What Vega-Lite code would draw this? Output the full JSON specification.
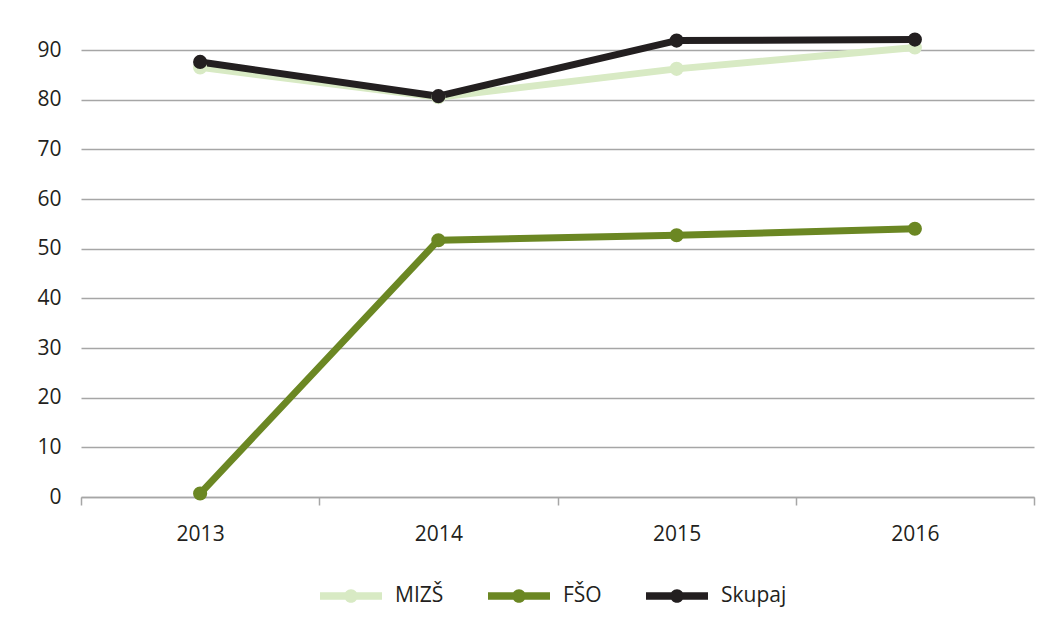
{
  "$schema": "https://vega.github.io/schema/vega-lite/v6.json",
  "width": 953,
  "height": 447,
  "autosize": {"type": "none"},
  "padding": {"left": 81, "top": 50, "right": 23, "bottom": 133},
  "background": "white",
  "config": {
    "font": "Open Sans",
    "view": {"stroke": null},
    "axis": {"labelFont": "Open Sans", "labelFontSize": 21, "labelColor": "#231f20", "title": null}
  },
  "data": {
    "values": [
      {"series": "MIZŠ", "year": "2013", "value": 86.5},
      {"series": "MIZŠ", "year": "2014", "value": 80.5},
      {"series": "MIZŠ", "year": "2015", "value": 86.2},
      {"series": "MIZŠ", "year": "2016", "value": 90.5},
      {"series": "FŠO", "year": "2013", "value": 0.7},
      {"series": "FŠO", "year": "2014", "value": 51.7},
      {"series": "FŠO", "year": "2015", "value": 52.7},
      {"series": "FŠO", "year": "2016", "value": 54.0},
      {"series": "Skupaj", "year": "2013", "value": 87.6},
      {"series": "Skupaj", "year": "2014", "value": 80.7},
      {"series": "Skupaj", "year": "2015", "value": 91.9},
      {"series": "Skupaj", "year": "2016", "value": 92.1}
    ]
  },
  "encoding": {
    "x": {
      "field": "year", "type": "ordinal",
      "scale": {"type": "band", "paddingInner": 0, "paddingOuter": 0},
      "axis": {"labelAngle": 0, "tickBand": "extent", "tickSize": 8, "tickColor": "#a6a6a6", "tickWidth": 1.5, "domainColor": "#a6a6a6", "domainWidth": 1.5, "labelPadding": 18, "grid": false, "title": null}
    },
    "y": {
      "field": "value", "type": "quantitative",
      "scale": {"domain": [0, 90], "nice": false},
      "axis": {"values": [0, 10, 20, 30, 40, 50, 60, 70, 80, 90], "ticks": false, "domain": false, "gridColor": "#a6a6a6", "gridWidth": 1.5, "labelPadding": 20, "title": null}
    },
    "color": {
      "field": "series", "type": "nominal",
      "scale": {"domain": ["MIZŠ", "FŠO", "Skupaj"], "range": ["#d8eac4", "#6b8723", "#231f20"]},
      "legend": {
        "title": null,
        "orient": "none",
        "legendX": 239,
        "legendY": 515,
        "direction": "horizontal",
        "symbolType": "M-1,-0.12 L1,-0.12 L1,0.12 L-1,0.12 Z M-0.22,0 A0.22,0.22 0 1,1 0.22,0 A0.22,0.22 0 1,1 -0.22,0 Z",
        "symbolSize": 3844,
        "symbolStrokeWidth": 0,
        "labelFont": "Open Sans",
        "labelFontSize": 21,
        "labelColor": "#231f20",
        "labelOffset": 13,
        "columnPadding": 44,
        "encode": {"symbols": {"update": {"fill": {"scale": "color", "field": "value"}, "stroke": {"value": "transparent"}, "opacity": {"value": 1}}}}
      }
    }
  },
  "layer": [
    {"mark": {"type": "line", "strokeWidth": 7, "strokeCap": "round", "strokeJoin": "round"}},
    {"mark": {"type": "point", "filled": true, "size": 200, "opacity": 1}}
  ]
}
